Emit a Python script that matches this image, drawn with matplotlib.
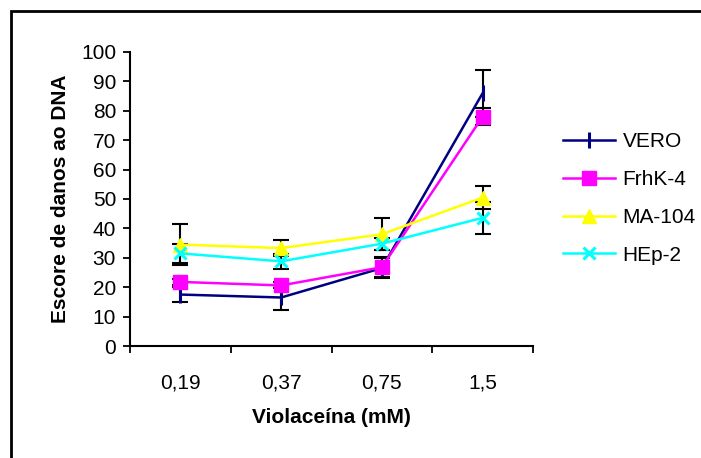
import matplotlib
matplotlib.use('Agg')
import matplotlib.pyplot as plt
from matplotlib.patches import Rectangle

plt.rcParams['font.family'] = ['Liberation Sans', 'DejaVu Sans']

doses = ['0,19', '0,37', '0,75', '1,5']

vero = [17.5, 16.5, 26.5, 86.0]
vero_err = [2.5, 4.3, 3.5, 8.0]
frhk = [21.8, 20.6, 26.8, 78.0]
frhk_err = [1.0, 1.0, 3.5, 3.0]
ma104 = [34.5, 33.3, 38.0, 50.5]
ma104_err = [7.0, 2.8, 5.5, 4.0]
hep2 = [31.5, 28.8, 34.8, 43.6]
hep2_err = [3.3, 2.6, 2.0, 5.4]

series = [
    ('VERO', vero, vero_err, '#000080', '|', 12, None),
    ('FrhK-4', frhk, frhk_err, '#FF00FF', 's', 10, '#FF00FF'),
    ('MA-104', ma104, ma104_err, '#FFFF00', '^', 10, '#FFFF00'),
    ('HEp-2', hep2, hep2_err, '#00FFFF', 'x', 9, None),
]

fig = plt.figure(figsize=(7.01, 4.58), dpi=100)
ax = fig.add_axes([130/701, 1-346/458, 403/701, 294/458])

xs = [i + 0.5 for i in range(len(doses))]

# error bars first, markers on top
for name, vals, errs, col, mk, ms, fc in series:
    ax.errorbar(xs, vals, yerr=errs, fmt='none', ecolor='black',
                elinewidth=1.5, capsize=5.5, capthick=1.5, zorder=2)

for name, vals, errs, col, mk, ms, fc in series:
    ax.plot(xs, vals, color=col, lw=1.8, marker=mk, markersize=ms,
            markeredgewidth=2.2 if mk in ('|', 'x') else 1,
            markerfacecolor=fc if fc else col, markeredgecolor=col,
            label=name, zorder=3)

ax.set_xlim(0, 4)
ax.set_ylim(0, 100)
ax.set_yticks(range(0, 101, 10))
ax.set_xticks([0, 1, 2, 3, 4])
ax.set_xticklabels([])
ax.set_xticks(xs, minor=True)
ax.set_xticklabels(doses, minor=True)
ax.tick_params(axis='x', which='minor', length=0, pad=20, labelsize=15)
ax.tick_params(axis='x', which='major', direction='out', length=5, width=1.3)
ax.tick_params(axis='y', direction='out', length=5, width=1.3, labelsize=15, pad=5)

for s in ['top', 'right']:
    ax.spines[s].set_visible(False)
for s in ['left', 'bottom']:
    ax.spines[s].set_linewidth(1.5)

ax.set_ylabel('Escore de danos ao DNA', fontsize=15, fontweight='bold', labelpad=8)
ax.set_xlabel('Violaceína (mM)', fontsize=15, fontweight='bold', labelpad=11)

leg = fig.legend(loc='upper left', bbox_to_anchor=(555/701, 1-124/458),
                 frameon=False, fontsize=15, handlelength=2.5,
                 labelspacing=0.9, handletextpad=0.35, borderaxespad=0)

# outer frame (partly outside the picture, as in the original)
fig.patches.append(Rectangle((11/701, -0.05), 1.1, 1-11/458+0.05,
                             transform=fig.transFigure, fill=False,
                             edgecolor='black', lw=2, clip_on=False))

fig.savefig('out.png', dpi=100)
